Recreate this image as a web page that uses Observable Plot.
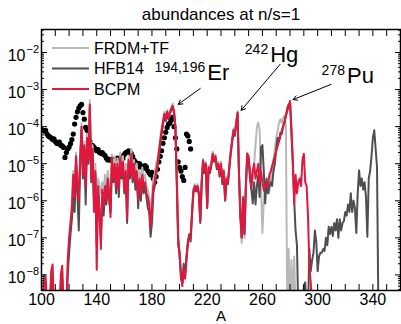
<!DOCTYPE html>
<html><head><meta charset="utf-8">
<script src="https://cdn.jsdelivr.net/npm/d3@7"></script>
<script src="https://cdn.jsdelivr.net/npm/@observablehq/plot@0.6"></script>
<style>body{margin:0;background:#fff;} svg{display:block}</style>
</head><body><div id="chart"></div>
<script>
// mass numbers start at 100, one value per A (log10 of abundance; null = no point)
const massStart = 100;

const frdmLog = [
 -9,-8.7,-8.1,-8.2,-9,-9,-9,-8.0,-7.8,-9,
 -9,-9,-9,-9,-8.1,-7.9,-9,-9,-9,-7.8,
 -7.1,-6.7,-6.0,-5.2,-5.7,-4.7,-5.3,-5.8,-4.8,-3.9,
 -5.1,-4.4,-5.4,-4.2,-4.7,-3.29,-5.1,-4.5,-5.6,-5.0,
 -6.3,-5.4,-5.6,-5.8,-5.5,-5.7,-5.3,-5.6,-5.2,-5.5,
 -5.9,-4.75,-5.2,-4.8,-5.4,-4.85,-5.4,-4.7,-5.1,-4.8,
 -5.5,-5.0,-6.0,-4.8,-5.1,-4.6,-5.2,-4.9,-5.3,-5.0,
 -5.6,-5.2,-5.5,-5.1,-5.4,-5.3,-5.6,-5.7,-5.9,-6.3,
 -5.9,-5.4,-5.3,-5.0,-4.85,-4.6,-4.3,-4.0,-3.8,-3.6,
 -3.72,-3.55,-3.7,-3.57,-3.47,-3.38,-3.55,-3.95,-5.35,-6.9,
 -7.4,-7.9,-8.2,-7.8,-8.0,-7.5,-7.1,-6.9,-6.9,-6.3,
 -5.7,-5.55,-5.65,-5.55,-5.75,-6.5,-5.45,-4.87,-5.15,-4.95,
 -6.1,-5.05,-5.15,-4.95,-4.68,-4.85,-4.75,-5.05,-4.95,-5.25,
 -4.95,-5.45,-5.15,-5.9,-5.35,-5.45,-5.05,-4.65,-4.35,-4.05,
 -4.15,-3.85,-3.58,-5.3,-6.5,-7.14,-6.0,-7.0,-5.6,-4.7,
 -4.9,-5.3,-5.7,-5.4,-5.0,-4.5,-4.0,-3.89,-4.1,-5.63,
 -6.87,-6.0,-5.7,-5.8,-5.5,-5.8,-5.2,-5.5,-4.9,-4.6,
 -4.3,-4.11,-3.9,-3.8,-3.9,-3.76,-3.7,-4.0,-9,-7.3,
 -9,-7.6,-9,-7.5,-9
];

const hfbLog = [
 -9,-8.6,-8.0,-8.3,-9,-9,-9,-8.1,-8.2,-9,
 -9,-9,-9,-9,-8.3,-8.1,-9,-9,-9,-8.0,
 -7.4,-6.9,-6.5,-5.9,-6.3,-5.0,-5.8,-6.8,-5.0,-4.1,
 -5.4,-4.6,-6.1,-4.4,-5.0,-3.5,-5.5,-4.7,-6.0,-5.3,
 -7.2,-5.7,-6.4,-7.0,-6.0,-6.4,-5.8,-6.1,-5.5,-6.0,
 -6.3,-5.0,-5.5,-5.1,-5.8,-5.1,-5.9,-4.9,-5.4,-5.1,
 -5.8,-5.3,-6.6,-5.0,-5.4,-4.9,-5.5,-5.1,-5.7,-5.3,
 -6.2,-5.5,-6.0,-5.4,-5.8,-5.6,-5.9,-6.2,-6.3,-6.97,
 -6.6,-5.8,-5.6,-5.3,-5.1,-4.8,-4.5,-4.2,-3.95,-3.7,
 -3.85,-3.65,-3.8,-3.65,-3.55,-3.47,-3.65,-4.1,-5.6,-7.2,
 -7.4,-8.1,-8.2,-7.7,-8.0,-7.5,-7.1,-6.9,-7.1,-6.4,
 -5.8,-5.65,-5.75,-5.65,-5.85,-6.6,-5.55,-4.95,-5.25,-5.05,
 -6.2,-5.15,-5.25,-5.05,-4.78,-4.95,-4.85,-5.15,-5.05,-5.35,
 -5.05,-5.55,-5.25,-6.0,-5.45,-5.55,-5.15,-4.75,-4.45,-4.15,
 -4.25,-3.95,-3.66,-5.25,-6.4,-7.0,-5.95,-6.9,-5.65,-4.78,
 -4.9,-5.4,-5.7,-6.07,-5.5,-6.1,-5.6,-5.3,-5.9,-4.56,
 -4.5,-5.2,-6.07,-5.4,-5.8,-5.63,-5.5,-5.6,-5.2,-5.0,
 -4.6,-4.3,-4.4,-4.16,-4.2,-4.0,-3.9,-3.7,-3.5,-3.4,
 -3.36,-4.2,-4.91,-5.98,-6.8,-7.2,-9,-9,-9,-9,
 -8.3,-8.2,-9,-9,-7.3,-7.9,-7.6,-7.4,-6.8,-7.1,
 -7.9,-7.5,-7.4,-7.4,-7.3,-7.35,-7.0,-7.2,-6.7,-6.9,
 -6.7,-6.95,-6.6,-6.8,-6.5,-7.0,-6.5,-6.8,-6.6,-6.55,
 -6.3,-6.4,-6.1,-6.3,-5.8,-6.3,-6.0,-6.2,-6.87,-5.8,
 -5.18,-5.6,-5.4,-5.7,-5.5,-5.9,-6.97,-5.4,-5.2,-4.8,
 -4.3,-4.1,-4.6,-5.1,-9,-9
];

const bcpmLog = [
 -9,-9,-8.2,-8.05,-9,-8.5,-9,-7.9,-7.72,-9,
 -9,-9,-9,-9,-8.0,-7.75,-9,-9,-9,-7.6,
 -7.0,-6.6,-6.2,-5.3,-5.9,-4.8,-5.5,-6.0,-4.9,-4.0,
 -5.3,-4.5,-5.6,-4.3,-4.9,-3.4,-5.4,-4.6,-6.3,-5.2,
 -7.86,-5.6,-6.2,-7.3,-5.7,-6.1,-5.6,-6.0,-5.4,-5.8,
 -6.44,-4.83,-5.4,-5.0,-5.6,-5.0,-5.7,-4.83,-5.3,-4.95,
 -5.7,-5.2,-6.47,-4.9,-5.3,-4.73,-5.4,-5.0,-5.5,-5.2,
 -5.98,-5.4,-5.8,-5.3,-5.6,-5.5,-5.8,-5.9,-6.1,-6.7,
 -6.2,-5.6,-5.5,-5.2,-5.0,-4.7,-4.4,-4.11,-3.9,-3.66,
 -3.8,-3.6,-3.75,-3.62,-3.52,-3.44,-3.6,-4.02,-5.45,-7.0,
 -7.5,-8.0,-8.3,-7.86,-8.1,-7.59,-7.2,-6.96,-7.0,-6.33,
 -5.72,-5.6,-5.7,-5.6,-5.8,-6.56,-5.5,-4.91,-5.2,-5.0,
 -6.16,-5.1,-5.2,-5.0,-4.73,-4.9,-4.8,-5.1,-5.0,-5.3,
 -5.0,-5.5,-5.2,-5.98,-5.4,-5.5,-5.1,-4.7,-4.4,-4.1,
 -4.2,-3.9,-3.62,-5.2,-6.33,-6.97,-5.9,-6.87,-5.6,-4.73,
 -4.8,-5.2,-5.63,-5.2,-5.0,-5.4,-5.2,-5.0,-5.5,-5.2,
 -5.5,-5.72,-5.6,-5.5,-5.6,-5.3,-5.2,null,null,null,
 null,null,null,null,null,null,null,null,null,null,
 -3.31,-4.0,-5.0,-6.07,-5.3,-5.8,-5.5,-5.4,-5.6,-4.9,
 -4.73,-5.5,-5.6,-6.4,-7.8,-8.2,-9
];

// solar r-process abundances (dots), A = 100..208
const solarLog = [
 -4.07,-4.1,-4.12,-4.1,-4.2,-4.25,-4.28,-4.3,-4.35,-4.33,
 -4.4,-4.45,-4.46,-4.42,-4.5,-4.52,-4.56,-4.83,-4.7,-4.6,
 -4.55,-4.46,-4.35,-4.2,-3.93,-3.75,-3.6,-3.5,-3.44,-3.4,
 -3.62,-3.8,-4.02,-4.1,-4.25,-4.4,-4.5,-4.51,-4.55,-4.6,
 -4.65,-4.62,-4.7,-4.72,-4.7,-4.75,-4.78,-4.85,-4.9,-4.88,
 -4.91,-4.9,-4.95,-4.88,-4.9,-4.85,-4.9,-4.85,-4.8,-4.85,
 -4.75,-4.7,-4.69,-4.65,-4.68,-4.73,-4.8,-4.9,-4.95,-5.0,
 -5.09,-5.0,-5.05,-5.1,-5.12,-5.05,-5.09,-5.2,-5.25,-5.3,
 -5.23,-5.4,-5.5,-5.35,-5.15,-4.95,-4.8,-4.65,-4.45,-4.3,
 -4.15,-4.02,-3.93,-3.9,-3.82,-3.75,-4.0,-4.3,-4.6,-4.95,
 -5.1,-5.2,-5.35,-5.45,-5.1,-4.2,-4.25,-4.4,-4.6
];

const seriesNames = ["FRDM+TF", "HFB14", "BCPM"];
const seriesColors = ["#b9b9b9", "#4f4f4f", "#e1173d"];
const decades = [-8, -7, -6, -5, -4, -3, -2];
const xLabelTicks = [100, 140, 180, 220, 260, 300, 340];
const xMinorTicks = d3.range(100, 361, 10);
const titleText = "abundances at n/s=1";
const xLabelText = "A";

// annotations: nucleus labels and arrows (data coordinates: A, log10 abundance)
const noteLabels = [
  {sup: "194,196", el: "Er", A: 219.3, v: -2.755},
  {sup: "242", el: "Hg", A: 264.9, v: -2.27},
  {sup: "278", el: "Pu", A: 320.5, v: -2.836}
];
const noteArrows = [
  {A1: 215.0, v1: -2.97, A2: 199.1, v2: -3.40},
  {A1: 272.8, v1: -2.32, A2: 244.6, v2: -3.56},
  {A1: 309.7, v1: -2.86, A2: 282.2, v2: -3.27}
];

const toRows = (logs, name) => logs
  .map((v, i) => v == null ? null : {A: massStart + i, y: Math.pow(10, v), s: name})
  .filter(Boolean);

const frdm = toRows(frdmLog, seriesNames[0]);
const hfb = toRows(hfbLog, seriesNames[1]);
const bcpm = toRows(bcpmLog, seriesNames[2]);
const solar = toRows(solarLog, "solar");

const yMin = Math.pow(10, -8.42), yMax = Math.pow(10, -1.38);
const majorY = decades.map(d => Math.pow(10, d));
const minorY = [];
for (let d = -9; d <= -2; d++) for (let m = 2; m <= 9; m++) {
  const v = m * Math.pow(10, d);
  if (v > yMin && v < yMax) minorY.push(v);
}

const font = "'Liberation Sans', Arial, Helvetica, sans-serif";

const plot = Plot.plot({
  width: 401, height: 324,
  marginTop: 29, marginBottom: 34, marginLeft: 41, marginRight: 1,
  style: {fontFamily: font, background: "white", color: "black"},
  x: {domain: [100, 360]},
  y: {type: "log", domain: [yMin, yMax]},
  marks: [
    Plot.dot(solar, {x: "A", y: "y", r: 2.6, fill: "black", clip: true}),
    Plot.line(frdm, {x: "A", y: "y", stroke: seriesColors[0], strokeWidth: 2, clip: true}),
    Plot.line(hfb, {x: "A", y: "y", stroke: seriesColors[1], strokeWidth: 2, clip: true}),
    Plot.line(bcpm, {x: "A", y: "y", stroke: seriesColors[2], strokeWidth: 2, clip: true}),
    Plot.frame({stroke: "black", strokeWidth: 1.5}),
    Plot.axisX({anchor: "bottom", ticks: xMinorTicks, tickSize: -6, tickFormat: () => "", label: null}),
    Plot.axisX({anchor: "top", ticks: xMinorTicks, tickSize: -6, tickFormat: () => "", label: null}),
    Plot.axisX({anchor: "bottom", ticks: xLabelTicks, tickSize: 0, tickPadding: 3, fontSize: 16, tickFormat: d => String(d), label: null}),
    Plot.axisY({anchor: "left", ticks: majorY, tickSize: -6, tickFormat: () => "", label: null}),
    Plot.axisY({anchor: "right", ticks: majorY, tickSize: -6, tickFormat: () => "", label: null}),
    Plot.axisY({anchor: "left", ticks: minorY, tickSize: -3, tickFormat: () => "", label: null}),
    Plot.axisY({anchor: "right", ticks: minorY, tickSize: -3, tickFormat: () => "", label: null}),
    Plot.text(decades, {y: d => Math.pow(10, d), frameAnchor: "left", text: () => "10", textAnchor: "end", dx: -16, dy: 3, fontSize: 16}),
    Plot.text(decades, {y: d => Math.pow(10, d), frameAnchor: "left", text: d => "\u2212" + (-d), textAnchor: "start", dx: -15, dy: -3, fontSize: 11}),
    Plot.text([titleText], {frameAnchor: "top", lineAnchor: "middle", dy: -15, fontSize: 17}),
    Plot.text([xLabelText], {frameAnchor: "bottom", lineAnchor: "middle", dy: 26, fontSize: 15}),
    Plot.arrow(noteArrows, {x1: "A1", y1: d => Math.pow(10, d.v1), x2: "A2", y2: d => Math.pow(10, d.v2), stroke: "black", strokeWidth: 1, headLength: 7}),
    Plot.text(noteLabels, {x: "A", y: d => Math.pow(10, d.v), text: "sup", textAnchor: "end", lineAnchor: "bottom", dx: -1, dy: -8, fontSize: 14}),
    Plot.text(noteLabels, {x: "A", y: d => Math.pow(10, d.v), text: "el", textAnchor: "start", lineAnchor: "bottom", dx: 1, fontSize: 22})
  ]
});

// legend (top-left, inside the frame)
const lg = d3.select(plot).append("g").attr("font-family", font).attr("font-size", 16).attr("text-anchor", "start");
seriesNames.forEach((name, i) => {
  const yy = 48 + i * 20.5;
  lg.append("line").attr("x1", 52).attr("x2", 89).attr("y1", yy).attr("y2", yy)
    .attr("stroke", seriesColors[i]).attr("stroke-width", 2);
  lg.append("text").attr("x", 94).attr("y", yy).attr("dy", "0.35em").attr("fill", "black").attr("text-anchor", "start").text(name);
});

document.getElementById("chart").append(plot);
</script>
</body></html>
